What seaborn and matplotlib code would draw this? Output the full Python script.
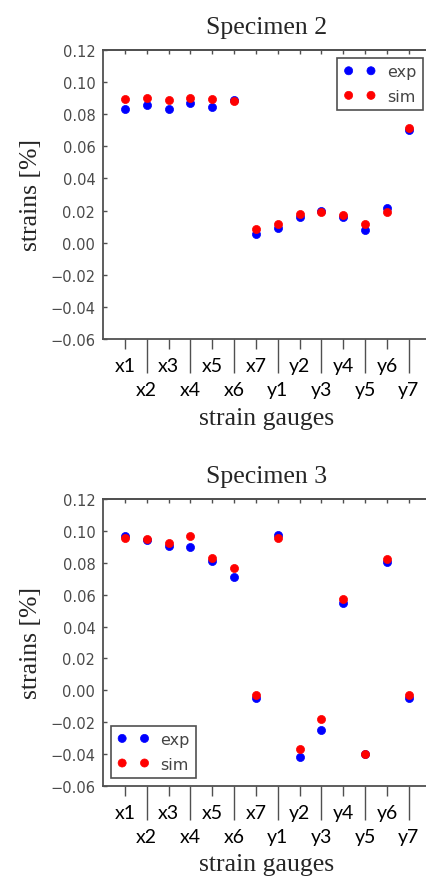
import numpy as np
import pandas as pd
import matplotlib
matplotlib.use("Agg")
import matplotlib.pyplot as plt
import seaborn as sns
from matplotlib.ticker import FuncFormatter

gauges = ["x1", "x2", "x3", "x4", "x5", "x6", "x7",
          "y1", "y2", "y3", "y4", "y5", "y6", "y7"]

spec2_exp = [0.0830, 0.0855, 0.0830, 0.0868, 0.0848, 0.0890, 0.0055,
             0.0090, 0.0160, 0.0196, 0.0162, 0.0080, 0.0218, 0.0702]
spec2_sim = [0.0892, 0.0902, 0.0886, 0.0902, 0.0892, 0.0884, 0.0085,
             0.0114, 0.0181, 0.0193, 0.0175, 0.0114, 0.0192, 0.0717]

spec3_exp = [0.0966, 0.0940, 0.0908, 0.0898, 0.0808, 0.0708, -0.0050,
             0.0971, -0.0418, -0.0250, 0.0546, -0.0398, 0.0802, -0.0050]
spec3_sim = [0.0958, 0.0952, 0.0925, 0.0967, 0.0827, 0.0769, -0.0031,
             0.0956, -0.0369, -0.0179, 0.0571, -0.0402, 0.0821, -0.0030]

titles = ["Specimen 2", "Specimen 3"]
legend_locs = ["upper right", "lower left"]
yticks = [-0.06, -0.04, -0.02, 0.00, 0.02, 0.04, 0.06, 0.08, 0.10, 0.12]

sns.set_style("white")
plt.rcParams["font.family"] = ["DejaVu Sans"]

fig = plt.figure(figsize=(4.27, 8.79), dpi=100)
positions = [[0.2412, 0.6132, 0.7675, 0.3288],
             [0.2412, 0.1047, 0.7675, 0.3265]]

spine_col = "#505050"
serif = "Liberation Serif"

datasets = [(spec2_exp, spec2_sim), (spec3_exp, spec3_sim)]
xpos = np.arange(len(gauges))

for i, (exp, sim) in enumerate(datasets):
    ax = fig.add_axes(positions[i])
    df = pd.DataFrame({"pos": xpos, "exp": exp, "sim": sim})
    sns.scatterplot(data=df, x="pos", y="exp", ax=ax, color="#0000ff",
                    edgecolor="#0000ff", linewidth=0.5, s=34, label="exp",
                    zorder=3, legend=False)
    sns.scatterplot(data=df, x="pos", y="sim", ax=ax, color="#ff0000",
                    edgecolor="#ff0000", linewidth=0.5, s=34, label="sim",
                    zorder=4, legend=False)

    ax.set_xlim(-1, 14)
    ax.set_ylim(-0.06, 0.12)
    ax.set_yticks(yticks)
    ax.yaxis.set_major_formatter(FuncFormatter(lambda v, p: f"{v:.2f}".replace("-", "\u2212")))

    # x ticks: odd gauges on first row (short ticks), even gauges second row (long ticks)
    ax.set_xticks(xpos[0::2])
    ax.set_xticklabels(gauges[0::2])
    ax.set_xticks(xpos[1::2], minor=True)
    ax.set_xticklabels(gauges[1::2], minor=True)
    ax.tick_params(axis="x", which="major", direction="out", length=7.2, width=1.0,
                   pad=5.6, color=spine_col, labelsize=14, labelcolor="black",
                   bottom=True, top=False)
    ax.tick_params(axis="x", which="minor", direction="out", length=24.5, width=1.0,
                   pad=5.6, color=spine_col, labelsize=14, labelcolor="black",
                   bottom=True, top=False)
    for lab in ax.get_xticklabels(which="both"):
        lab.set_family(["Lato", "DejaVu Sans"])

    ax.tick_params(axis="y", direction="in", length=3, width=1.0, pad=5.5,
                   color=spine_col, labelsize=10.5, labelcolor="#4a4a4a",
                   left=True, right=True)
    for lab in ax.get_yticklabels():
        lab.set_family(["DejaVu Sans"])

    sec = ax.secondary_xaxis("top")
    sec.set_xticks(xpos)
    sec.set_xticklabels([])
    sec.tick_params(direction="in", length=3, width=1.0, color=spine_col)
    sec.spines["top"].set_color(spine_col)
    sec.spines["top"].set_linewidth(1.3)

    for sp in ax.spines.values():
        sp.set_color(spine_col)
        sp.set_linewidth(1.3)

    ax.set_title(titles[i], family=serif, fontsize=18.5, pad=12)
    ax.set_ylabel("strains [%]", family=serif, fontsize=18.5)
    ax.yaxis.set_label_coords(-0.185, 0.5)
    ax.set_xlabel("strain gauges", family=serif, fontsize=18.5)
    ax.xaxis.set_label_coords(0.5, -0.235)
    ax.xaxis.label.set_va("top")

    leg = ax.legend(loc=legend_locs[i], scatterpoints=2, scatteryoffsets=[0.5],
                    prop={"family": "DejaVu Sans", "size": 11.5},
                    handlelength=2.0, handletextpad=0.7,
                    labelspacing=0.6, borderaxespad=0.5, fancybox=False,
                    framealpha=1, edgecolor=spine_col)
    leg.get_frame().set_linewidth(1.2)
    for t in leg.get_texts():
        t.set_color("#444444")

fig.savefig("out.png", dpi=100)
